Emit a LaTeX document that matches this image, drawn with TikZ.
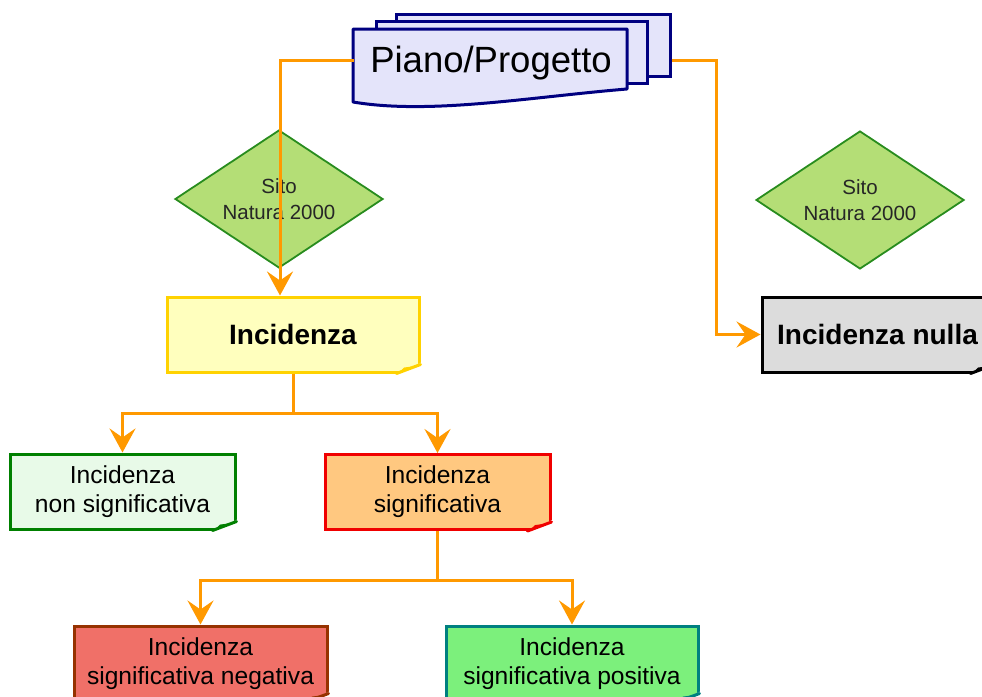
\documentclass[tikz,border=0pt]{standalone}
\usepackage{fontspec}
\setmainfont{Liberation Sans}
\usetikzlibrary{shapes.geometric,arrows.meta,calc}
\definecolor{orangeline}{RGB}{255,153,0}
\definecolor{navy}{RGB}{0,0,128}
\definecolor{lavender}{RGB}{228,228,250}
\definecolor{dmfill}{RGB}{180,222,118}
\definecolor{dmdraw}{RGB}{40,140,30}
\definecolor{yfill}{RGB}{255,255,190}
\definecolor{ydraw}{RGB}{255,210,0}
\definecolor{gfill}{RGB}{220,220,220}
\definecolor{nsfill}{RGB}{232,250,232}
\definecolor{nsdraw}{RGB}{0,128,0}
\definecolor{sfill}{RGB}{255,200,128}
\definecolor{sdraw}{RGB}{240,0,0}
\definecolor{negfill}{RGB}{240,112,104}
\definecolor{negdraw}{RGB}{150,50,0}
\definecolor{posfill}{RGB}{124,240,124}
\definecolor{posdraw}{RGB}{0,128,128}
\newcommand\myfold[2]{%
  \fill[white] ([xshift=3pt,yshift=-3pt]#1.south east) -- ([xshift=3pt,yshift=12pt]#1.south east) -- ([xshift=-28pt,yshift=-3pt]#1.south east) -- cycle;
  \draw[#2, line width=3pt, line cap=round] ([yshift=9pt]#1.south east) -- ([xshift=-24pt]#1.south east);
  \draw[#2, line width=2pt, line join=round] ([xshift=-20pt,yshift=1pt]#1.south east) -- ([xshift=-16pt,yshift=5pt]#1.south east) -- ([xshift=-8pt,yshift=6pt]#1.south east);
}
\begin{document}
\begin{tikzpicture}[x=1pt,y=-1pt,
  sheet/.style={draw=navy, fill=lavender, line width=3pt, rectangle, inner sep=0pt},
  dm/.style={diamond, draw=dmdraw, fill=dmfill, line width=1.8pt, inner sep=0pt,
    minimum width=208pt, minimum height=138pt},
  dmtext/.style={inner sep=0pt, align=center,
    font=\fontsize{20.5}{26}\selectfont, text=black!85},
  bx/.style={rectangle, line width=3pt, inner sep=0pt, minimum height=75pt,
    align=center, font=\fontsize{24.6}{29}\selectfont},
  bigbx/.style={bx, font=\fontsize{28}{32}\selectfont\bfseries},
  conn/.style={draw=orangeline, line width=3pt, line join=miter,
    -{Stealth[length=24pt,width=26pt,inset=9pt,fill=orangeline]}}
]
\useasboundingbox (0,0) rectangle (982,696);
\clip (0,0) rectangle (982,696);

% Piano/Progetto stack
\node[sheet, minimum width=274pt, minimum height=62pt] (sheet3) at (533,45) {};
\node[sheet, minimum width=271pt, minimum height=62pt] (sheet2) at (511.5,52) {};
\draw[draw=navy, fill=lavender, line width=3pt, line join=round]
  (353,29) -- (627,29) -- (627,89) .. controls (530,97) and (430,115) .. (353,102) -- cycle;
\node[inner sep=0pt, minimum width=274pt, minimum height=62pt, text height=25pt, text depth=0pt,
  font=\fontsize{36.5}{40}\selectfont] (piano) at (491,60) {Piano/Progetto};

% diamonds
\node[dm] (d1) at (279,199) {};
\node[dmtext] (d1t) at (d1.center) {Sito\\Natura 2000};
\node[dm] (d2) at (860,200) {};
\node[dmtext] (d2t) at (d2.center) {Sito\\Natura 2000};

% boxes
\node[bigbx, draw=ydraw, fill=yfill, minimum width=252pt] (inc) at (293,334.5) {Incidenza};
\node[bigbx, draw=black, fill=gfill, minimum width=231pt] (nulla) at (877.5,334.5) {Incidenza nulla};
\node[bx, draw=nsdraw, fill=nsfill, minimum width=225pt] (nons) at (122.5,491.5) {Incidenza\\non significativa};
\node[bx, draw=sdraw, fill=sfill, minimum width=225pt] (sig) at (437.5,492) {Incidenza\\significativa};
\node[bx, draw=negdraw, fill=negfill, minimum width=253pt] (neg) at (200.5,663.5) {Incidenza\\significativa negativa};
\node[bx, draw=posdraw, fill=posfill, minimum width=252pt] (pos) at (572,663.5) {Incidenza\\significativa positiva};

\myfold{inc}{ydraw}
\myfold{nulla}{black}
\myfold{nons}{nsdraw}
\myfold{sig}{sdraw}
\myfold{neg}{negdraw}
\myfold{pos}{posdraw}

% connectors
\coordinate (incin) at ($(inc.north)+(-13,0)$);
\draw[conn] (piano.west) -| (incin);
\draw[conn] (sheet3.east |- piano.west) -- ++(45,0) |- (nulla.west);
\draw[conn] (inc.south) -- ++(0,40) -| (nons.north);
\draw[conn] (inc.south) -- ++(0,40) -| (sig.north);
\draw[conn] (sig.south) -- ++(0,49) -| (neg.north);
\draw[conn] (sig.south) -- ++(0,49) -| (pos.north);
\end{tikzpicture}
\end{document}
